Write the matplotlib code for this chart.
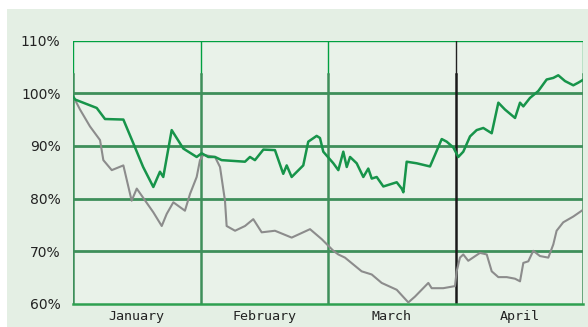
import numpy as np
import matplotlib.pyplot as plt
from matplotlib.patches import Rectangle

# months on the x axis, time in month units (0 = start of January)
months = ["January", "February", "March", "April"]
yticks = [60, 70, 80, 90, 100, 110]

# green series (index level, %)
green_t = [0.0, 0.016, 0.186, 0.251, 0.395, 0.473, 0.55, 0.630, 0.682, 0.708, 0.774,
           0.865, 0.970, 1.009, 1.061, 1.114, 1.166, 1.349, 1.388, 1.427, 1.493, 1.584,
           1.649, 1.676, 1.715, 1.806, 1.845, 1.911, 1.937, 1.963, 2.042, 2.081, 2.120,
           2.147, 2.173, 2.225, 2.277, 2.316, 2.343, 2.382, 2.434, 2.539, 2.578, 2.591,
           2.617, 2.696, 2.800, 2.839, 2.892, 2.931, 2.983, 3.022, 3.061, 3.114, 3.166,
           3.218, 3.284, 3.336, 3.388, 3.467, 3.506, 3.532, 3.584, 3.649, 3.715, 3.767,
           3.806, 3.859, 3.924, 3.963, 3.998]
green_v = [99.4, 98.8, 97.2, 95.1, 95.0, 90.5, 86.0, 82.2, 85.1, 84.1, 93.0,
           89.5, 87.9, 88.6, 87.9, 87.9, 87.3, 87.0, 87.9, 87.3, 89.3, 89.2,
           84.7, 86.3, 84.1, 86.3, 90.8, 91.9, 91.5, 88.9, 86.7, 85.4, 88.9,
           86.0, 87.9, 86.7, 84.1, 85.7, 83.8, 84.1, 82.3, 83.1, 81.9, 81.2,
           87.0, 86.7, 86.1, 88.3, 91.3, 90.8, 89.7, 87.9, 88.9, 91.8, 93.0,
           93.4, 92.4, 98.2, 96.9, 95.3, 98.2, 97.5, 99.1, 100.4, 102.6, 102.9,
           103.4, 102.3, 101.5, 102.0, 102.5]

# grey series (index level, %)
grey_t = [0.002, 0.055, 0.133, 0.212, 0.238, 0.304, 0.395, 0.460, 0.500, 0.630,
          0.696, 0.735, 0.787, 0.878, 0.918, 0.970, 0.996, 1.022, 1.114, 1.153,
          1.192, 1.205, 1.271, 1.349, 1.414, 1.480, 1.584, 1.715, 1.859, 1.951,
          2.042, 2.081, 2.133, 2.264, 2.343, 2.421, 2.539, 2.630, 2.682, 2.787,
          2.813, 2.904, 2.996, 3.009, 3.035, 3.061, 3.100, 3.192, 3.245, 3.284,
          3.336, 3.402, 3.467, 3.506, 3.532, 3.571, 3.610, 3.662, 3.728, 3.767,
          3.793, 3.845, 3.924, 3.990]
grey_v = [99.4, 96.9, 93.7, 91.1, 87.3, 85.4, 86.3, 79.6, 81.9, 77.4,
          74.8, 77.1, 79.3, 77.7, 80.9, 84.1, 87.3, 88.3, 87.9, 86.0,
          79.6, 74.8, 73.9, 74.8, 76.1, 73.6, 73.9, 72.6, 74.2, 72.3,
          70.1, 69.4, 68.8, 66.2, 65.6, 64.0, 62.7, 60.3, 61.4, 64.0,
          63.0, 63.0, 63.4, 66.2, 68.8, 69.4, 68.2, 69.7, 69.4, 66.2,
          65.1, 65.1, 64.8, 64.3, 67.8, 68.1, 70.1, 69.1, 68.8, 71.3,
          73.9, 75.5, 76.6, 77.7]

W, H = 588, 327
fig = plt.figure(figsize=(W / 100, H / 100), dpi=100)
fig.patch.set_facecolor("white")
fig.patches.append(Rectangle((7 / W, 0), 1 - 7 / W, (H - 9) / H,
                             transform=fig.transFigure, facecolor="#e4efe4",
                             edgecolor="none", zorder=-5))

ax = fig.add_axes([73 / W, (H - 304) / H, 510 / W, 263.5 / H])
ax.set_facecolor("#e9f2e9")
ax.set_xlim(0, 4)
ax.set_ylim(60, 110)

grid_c = "#3e8f5a"
for y in [70, 80, 90, 100]:
    ax.axhline(y, color=grid_c, lw=2.0, zorder=1)
ax.axhline(110, color="#00a040", lw=1.0, zorder=1)

top_frac = (103.7 - 60) / 50
for i in range(5):
    c_top = "#222222" if i == 3 else "#00a040"
    c_low = "#1a1a1a" if i == 3 else grid_c
    ax.axvline(i, ymin=top_frac, ymax=1, color=c_top, lw=1.0, zorder=1)
    ax.axvline(i, ymin=0, ymax=top_frac, color=c_low, lw=1.8, zorder=1)

ax.plot(grey_t, grey_v, color="#8c8c8c", lw=1.5, zorder=3)
ax.plot(green_t, green_v, color="#17944a", lw=1.8, zorder=4)

for s in ["top", "left", "right"]:
    ax.spines[s].set_visible(False)
ax.spines["bottom"].set_color("#2ea050")
ax.spines["bottom"].set_linewidth(1.8)

ax.set_yticks(yticks)
ax.set_yticklabels(["%d%%" % v for v in yticks], fontsize=10, color="#222222",
                   family="DejaVu Sans")
ax.set_xticks([0.5, 1.5, 2.5, 3.5])
ax.set_xticklabels(months, fontsize=9.6, color="#222222", family="DejaVu Sans Mono")
ax.tick_params(axis="both", length=0)
ax.tick_params(axis="y", pad=9)
ax.tick_params(axis="x", pad=4)

fig.savefig("out.png", dpi=100)
